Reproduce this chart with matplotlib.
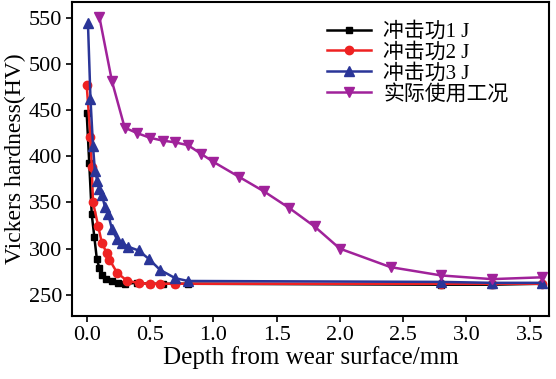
import matplotlib
matplotlib.use('Agg')
import matplotlib.pyplot as plt

plt.rcParams['font.family'] = ['Liberation Serif', 'Noto Sans CJK SC']

labels = ['冲击功1 J', '冲击功2 J', '冲击功3 J', '实际使用工况']

x1 = [0.0, 0.02, 0.04, 0.06, 0.08, 0.1, 0.12, 0.15, 0.2, 0.25, 0.3, 0.4, 0.5, 0.6, 0.7, 0.8, 2.8, 3.2, 3.6]
y1 = [447, 393, 337, 313, 289, 279, 272, 267, 265, 263, 262, 263, 262, 262, 262, 262, 261, 261, 262]

x2 = [0.0, 0.03, 0.04, 0.05, 0.09, 0.12, 0.16, 0.18, 0.24, 0.32, 0.41, 0.5, 0.58, 0.7, 2.8, 3.2, 3.6]
y2 = [477, 421, 388, 350, 325, 306, 295, 288, 274, 265, 263, 262, 262, 262, 262, 262, 262]

x3 = [0.01, 0.03, 0.05, 0.065, 0.085, 0.1, 0.12, 0.145, 0.17, 0.2, 0.24, 0.28, 0.33, 0.41, 0.49, 0.58, 0.7, 0.8, 2.8, 3.2, 3.6]
y3 = [544, 462, 411, 384, 373, 365, 358, 345, 337, 321, 310, 306, 302, 298, 289, 277, 268, 265, 264, 263, 263]

x4 = [0.1, 0.2, 0.3, 0.4, 0.5, 0.6, 0.7, 0.8, 0.9, 1.0, 1.2, 1.4, 1.6, 1.8, 2.0, 2.4, 2.8, 3.2, 3.6]
y4 = [551, 481, 431, 425, 420, 417, 415, 412, 403, 394, 378, 362, 344, 324, 300, 280, 271, 267, 269]

fig = plt.figure(figsize=(5.56, 3.79), dpi=100)
ax = fig.add_axes([0.1295, 0.166, 0.8575, 0.8287])

ax.plot(x1, y1, '-s', color='black', markersize=5, lw=1.8, label=labels[0])
ax.plot(x2, y2, '-o', color='#ee2222', markersize=6, lw=1.8, label=labels[1])
ax.plot(x3, y3, '-^', color='#2a3598', markersize=6.5, lw=1.8, label=labels[2])
ax.plot(x4, y4, '-v', color='#a0229a', markersize=7.5, lw=1.8, label=labels[3])

ax.set_xlim(-0.116, 3.65)
ax.set_ylim(227, 567)
ax.set_xticks([0, 0.5, 1.0, 1.5, 2.0, 2.5, 3.0, 3.5])
ax.set_yticks([250, 300, 350, 400, 450, 500, 550])
ax.tick_params(labelsize=16, direction='out', width=1.2, length=4, pad=3)
for s in ax.spines.values():
    s.set_linewidth(1.5)

ax.set_xlabel('Depth from wear surface/mm', fontsize=18, labelpad=1)
ax.set_ylabel('Vickers hardness(HV)', fontsize=17, labelpad=2)

ax.legend(loc='upper left', frameon=False, fontsize=15, handlelength=2.1,
          handletextpad=0.6, labelspacing=0.05, borderpad=0, borderaxespad=0,
          bbox_to_anchor=(0.535, 0.935))

fig.savefig('out.png', dpi=100)
